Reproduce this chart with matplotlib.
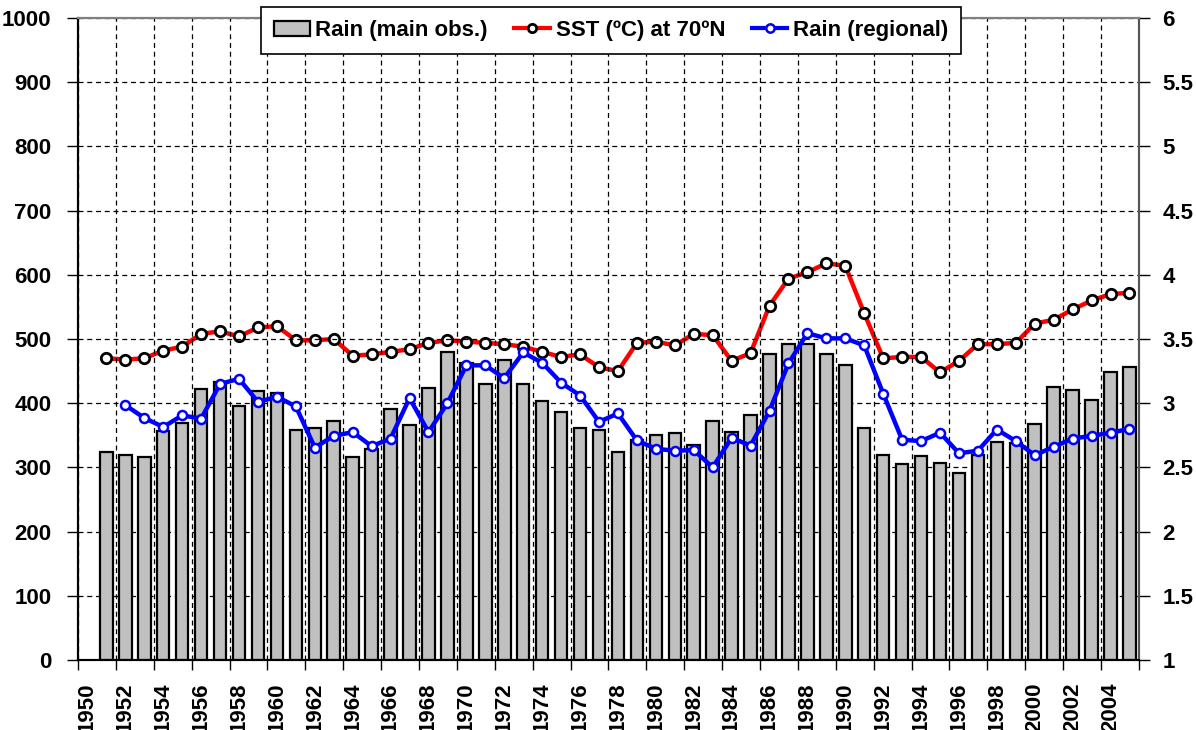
import numpy as np
import matplotlib
matplotlib.use("Agg")
import matplotlib.pyplot as plt
from matplotlib.lines import Line2D
from matplotlib.patches import Patch

plt.rcParams['font.family'] = ['Liberation Sans', 'DejaVu Sans']
plt.rcParams['font.weight'] = 'bold'

# yearly values
years = list(range(1951, 2006))
rain_main = [324, 319, 316, 356, 369, 422, 433, 395, 419, 416,
             358, 361, 372, 316, 328, 391, 366, 424, 480, 462,
             430, 468, 430, 403, 386, 362, 358, 324, 343, 350,
             354, 335, 373, 355, 382, 477, 492, 492, 477, 459,
             362, 320, 306, 317, 307, 292, 320, 340, 338, 368,
             425, 420, 405, 449, 456]
sst_70n = [3.35, 3.34, 3.35, 3.41, 3.44, 3.54, 3.56, 3.52, 3.59, 3.60,
           3.49, 3.49, 3.50, 3.37, 3.38, 3.40, 3.42, 3.47, 3.49, 3.48,
           3.47, 3.46, 3.44, 3.40, 3.36, 3.38, 3.28, 3.25, 3.47, 3.48,
           3.45, 3.54, 3.53, 3.33, 3.39, 3.76, 3.97, 4.02, 4.09, 4.07,
           3.70, 3.35, 3.36, 3.36, 3.24, 3.33, 3.46, 3.46, 3.47, 3.62,
           3.65, 3.73, 3.80, 3.85, 3.86]
rain_years = list(range(1952, 2006))
rain_regional = [397, 377, 363, 381, 376, 430, 438, 402, 410,
                 395, 331, 349, 355, 333, 345, 408, 355, 400, 459,
                 459, 439, 479, 463, 432, 412, 371, 384, 342, 329,
                 326, 327, 300, 346, 334, 388, 462, 509, 501, 501,
                 490, 415, 343, 341, 354, 322, 326, 359, 341, 319,
                 332, 345, 349, 354, 360]
tick_years = list(range(1950, 2008, 2))
label_years = list(range(1950, 2006, 2))

fig = plt.figure(figsize=(11.96, 7.30), dpi=100)
ax = fig.add_axes([0.0652, 0.0959, 0.8871, 0.8794])
ax2 = ax.twinx()

# bars, centred in each year's category
ax.bar(np.array(years) + 0.5, rain_main, width=0.66, color='#c0c0c0',
       edgecolor='black', linewidth=1.6, zorder=2)
ax.plot(np.array(rain_years) + 0.5, rain_regional, color='blue', lw=3.2,
        marker='o', ms=6.5, mfc='white', mec='blue', mew=1.8, zorder=4)
ax2.plot(np.array(years) + 0.5, sst_70n, color='red', lw=3.2,
         marker='o', ms=7.5, mfc='white', mec='black', mew=2, zorder=4)

ax.set_xlim(1950, 2006)
ax.set_ylim(0, 1000)
ax2.set_ylim(1, 6)
ax.set_yticks(range(0, 1001, 100))
ax2.set_yticks(np.arange(1, 6.01, 0.5))
ax2.set_yticklabels(['%g' % v for v in np.arange(1, 6.01, 0.5)])

ax.set_xticks(tick_years)
ax.set_xticklabels([])
ax.set_xticks(np.array(label_years) + 0.5, minor=True)
ax.set_xticklabels([str(y) for y in label_years], minor=True, rotation=90,
                   fontsize=16, fontweight='bold')
ax.tick_params(axis='x', which='minor', length=0, pad=16)
ax.tick_params(axis='x', which='major', length=7, width=1, direction='out')
ax.tick_params(axis='y', length=8, width=1, labelsize=16, pad=11)
ax2.tick_params(axis='y', length=8, width=1, labelsize=16, pad=9)

ax.grid(True, which='major', color='black', linestyle=(0, (4, 3)), lw=0.9, zorder=0)
ax.set_axisbelow(True)

for a in (ax, ax2):
    a.spines['top'].set_color('#808080')
    a.spines['top'].set_linewidth(1.5)
    a.spines['right'].set_color('#555555')
    a.spines['right'].set_linewidth(1.5)
    a.spines['left'].set_linewidth(1.5)
    a.spines['bottom'].set_linewidth(1.5)

ax.set_zorder(ax2.get_zorder() + 1)
ax.patch.set_visible(False)

handles = [Patch(facecolor='#c0c0c0', edgecolor='black', linewidth=1.6),
           Line2D([], [], color='red', lw=3, marker='o', ms=6, mfc='white', mec='black', mew=2),
           Line2D([], [], color='blue', lw=3, marker='o', ms=6, mfc='white', mec='blue', mew=1.8)]
labels = ['Rain (main obs.)', 'SST (ºC) at 70ºN', 'Rain (regional)']
leg = fig.legend(handles, labels, ncol=3, loc='center', bbox_to_anchor=(0.511, 0.958),
                 frameon=True, fancybox=False, edgecolor='black', framealpha=1,
                 prop={'size': 16, 'weight': 'bold'}, handlelength=1.6,
                 handletextpad=0.25, columnspacing=1.2, borderpad=0.6,
                 borderaxespad=0)
leg.get_frame().set_linewidth(1.2)

fig.savefig('out.png', dpi=100)
